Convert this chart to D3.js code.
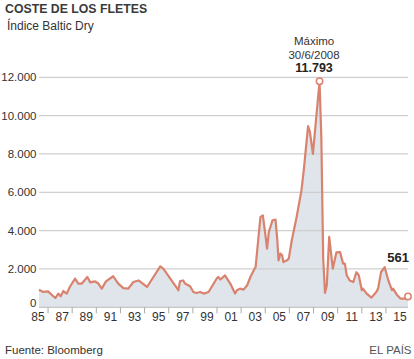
<!DOCTYPE html>
<html><head><meta charset="utf-8">
<script src="https://cdn.jsdelivr.net/npm/d3@7"></script>
<style>
html,body{margin:0;padding:0;background:#fff;}
svg{display:block;font-family:Arial,"Liberation Sans",sans-serif;}
</style></head>
<body>
<svg id="c" width="414" height="359"></svg>
<script>
const years = [1985.25,1985.6,1986.0,1986.6,1986.85,1987.05,1987.27,1987.55,1987.8,1988.24,1988.5,1988.8,1989.26,1989.5,1989.9,1990.17,1990.45,1990.8,1991.4,1991.8,1992.24,1992.65,1993.07,1993.5,1994.2,1995.3,1995.55,1996.8,1996.94,1997.2,1997.35,1997.77,1998.04,1998.3,1998.6,1998.9,1999.3,1999.98,2000.1,2000.3,2000.66,2001.1,2001.5,2001.65,2001.9,2002.2,2002.5,2002.77,2003.05,2003.2,2003.6,2003.8,2004.0,2004.15,2004.3,2004.6,2004.85,2005.0,2005.1,2005.25,2005.4,2005.5,2005.8,2005.95,2006.2,2006.6,2007.0,2007.2,2007.55,2007.7,2007.95,2008.5,2008.65,2008.8,2008.95,2009.1,2009.3,2009.6,2009.9,2010.2,2010.45,2010.6,2010.75,2011.0,2011.3,2011.55,2011.75,2012.0,2012.1,2012.4,2012.8,2013.2,2013.35,2013.6,2013.9,2014.2,2014.5,2014.6,2014.9,2015.2,2015.5,2015.7,2015.83];
const values = [920,800,830,485,715,575,850,715,1060,1500,1240,1240,1580,1300,1350,1240,975,1350,1620,1250,1000,975,1320,1400,1060,2140,2020,890,1370,1400,1240,1100,800,745,800,715,800,1500,1580,1450,1670,1240,715,890,975,920,1150,1580,1930,2100,4710,4800,3840,3060,3930,4540,4575,3500,2450,2800,2710,2360,2450,2540,3500,4710,6100,7200,9450,9150,8000,11793,8800,2600,750,1150,3670,2020,2870,2880,2280,2280,1670,1400,1320,1830,1670,890,975,715,505,800,975,1840,2090,1400,890,975,660,455,455,455,561];
const yTicks = [0,2000,4000,6000,8000,10000,12000];
const yTickLabels = ["0","2.000","4.000","6.000","8.000","10.000","12.000"];
const xTickYears = [1986,1988,1990,1992,1994,1996,1998,2000,2002,2004,2006,2008,2010,2012,2014];
const xLabelYears = [1985,1987,1989,1991,1993,1995,1997,1999,2001,2003,2005,2007,2009,2011,2013,2015];
const xLabels = ["85","87","89","91","93","95","97","99","01","03","05","07","09","11","13","15"];
const peak = {year:2008.5, value:11793, label:["Máximo","30/6/2008","11.793"]};
const last = {year:2015.83, value:561, label:"561"};

const data = years.map((y,i)=>({x:y, v:values[i]}));
const svg = d3.select("#c");
const x = d3.scaleLinear().domain([1985.25,2015.83]).range([39,408]);
const y = d3.scaleLinear().domain([0,12000]).range([307.3,77.3]);
const textCol = "#333";

// title
svg.append("text").attr("x",5).attr("y",12.5).attr("font-size",12.3).attr("font-weight","bold").attr("fill","#3a3a3a").text("COSTE DE LOS FLETES");
svg.append("text").attr("x",7).attr("y",29.5).attr("font-size",12).attr("fill",textCol).text("Índice Baltic Dry");

// area
svg.append("path").datum(data)
  .attr("d", d3.area().x(d=>x(d.x)).y0(y(0)).y1(d=>y(d.v)))
  .attr("fill","#dfe5ea");

// gridlines
svg.append("g").selectAll("line").data(yTicks.filter(t=>t>0)).join("line")
  .attr("x1",39).attr("x2",408).attr("y1",d=>y(d)).attr("y2",d=>y(d))
  .attr("stroke","#cfcfcf").attr("stroke-width",1.3);

// y labels
svg.append("g").selectAll("text").data(yTicks).join("text")
  .attr("x",36.5).attr("y",d=>d===0 ? y(d)-4.5 : y(d)).attr("dy","0.36em").attr("text-anchor","end")
  .attr("font-size",11.5).attr("fill",textCol).text((d,i)=>yTickLabels[i]);

// baseline
svg.append("line").attr("x1",39).attr("x2",408).attr("y1",y(0)).attr("y2",y(0)).attr("stroke","#bbb").attr("stroke-width",1);

// x ticks
svg.append("g").selectAll("line").data(xTickYears).join("line")
  .attr("x1",d=>x(d)).attr("x2",d=>x(d)).attr("y1",y(0)).attr("y2",y(0)+6)
  .attr("stroke","#aaa").attr("stroke-width",1);

svg.append("g").selectAll("text").data(xLabelYears).join("text")
  .attr("x",d=>x(d+0.17)).attr("y",320.5).attr("text-anchor","middle")
  .attr("font-size",12).attr("fill",textCol).text((d,i)=>xLabels[i]);

// line
svg.append("path").datum(data)
  .attr("d", d3.line().x(d=>x(d.x)).y(d=>y(d.v)))
  .attr("fill","none").attr("stroke","#d9836f").attr("stroke-width",2.2).attr("stroke-linejoin","round");

// markers
[peak,last].forEach(p=>{
  svg.append("circle").attr("cx",x(p.year)).attr("cy",y(p.value)).attr("r",3.2)
    .attr("fill","#fff").attr("stroke","#d9836f").attr("stroke-width",1.5);
});

// annotations
const px = x(peak.year)-5.5;
svg.append("text").attr("x",px).attr("y",45).attr("text-anchor","middle").attr("font-size",11.5).attr("fill",textCol).text(peak.label[0]);
svg.append("text").attr("x",px).attr("y",58.5).attr("text-anchor","middle").attr("font-size",11.5).attr("fill",textCol).text(peak.label[1]);
svg.append("text").attr("x",px).attr("y",72).attr("text-anchor","middle").attr("font-size",12.5).attr("font-weight","bold").attr("fill","#222").text(peak.label[2]);
svg.append("text").attr("x",409).attr("y",262).attr("text-anchor","end").attr("font-size",13).attr("font-weight","bold").attr("fill","#222").text(last.label);

// footer
svg.append("text").attr("x",5).attr("y",354).attr("font-size",11.5).attr("fill",textCol).text("Fuente: Bloomberg");
svg.append("text").attr("x",411.5).attr("y",354).attr("text-anchor","end").attr("font-size",11.5).attr("fill","#555").text("EL PAÍS");
</script>
</body></html>
